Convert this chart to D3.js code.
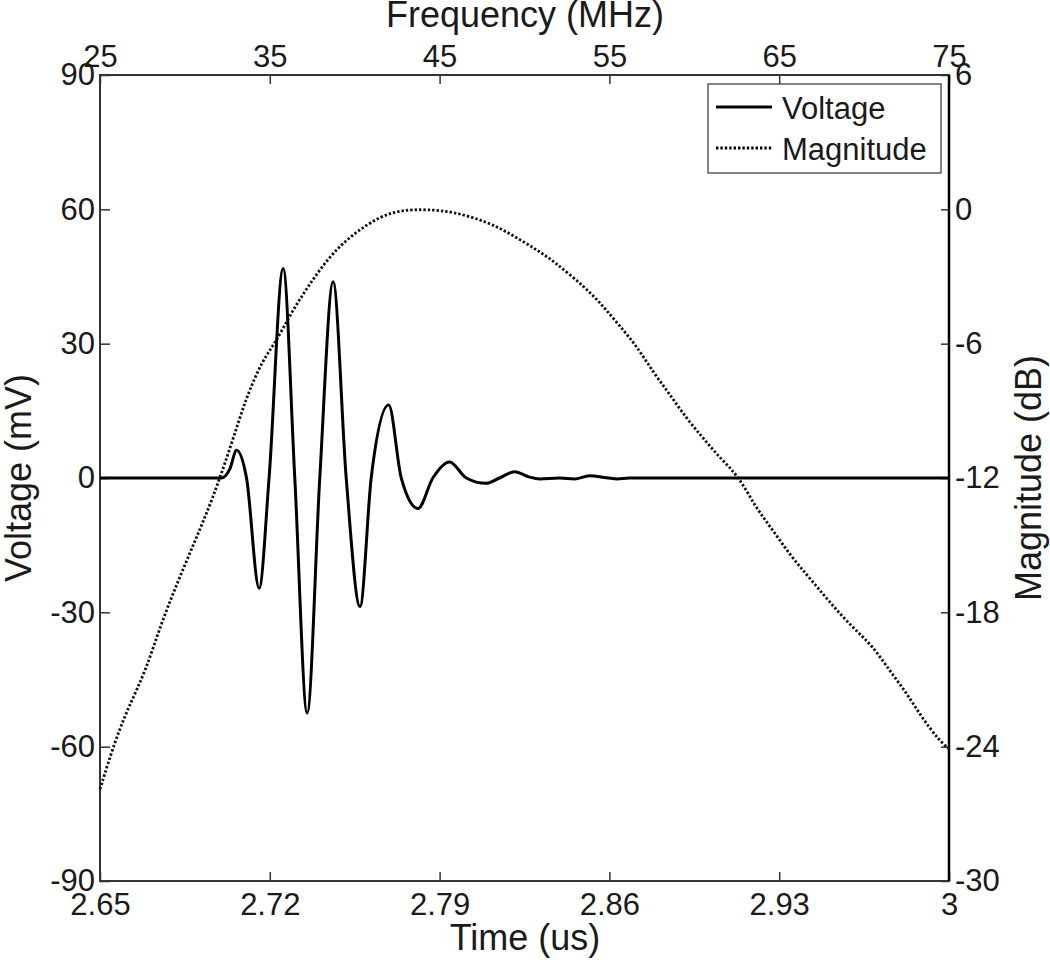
<!DOCTYPE html>
<meta charset="utf-8">
<style>
  body { margin: 0; background: #fff; }
  svg { font-family: "Liberation Sans", Arial, sans-serif; }
  .tick text { font-size: 31px; fill: #1a1a1a; }
  .tick line { stroke: #333; stroke-width: 1.5; }
  .label { font-size: 36px; fill: #1a1a1a; }
  .legend text { font-size: 31px; fill: #1a1a1a; }
</style>
<body>
<script src="https://cdnjs.cloudflare.com/ajax/libs/d3/7.8.5/d3.min.js"></script>
<script>

// time signal
var timeUs = [2.65, 2.700, 2.7035, 2.7063, 2.7104, 2.7156, 2.7197, 2.7255, 2.7303, 2.7354,
              2.7406, 2.7461, 2.7515, 2.7572, 2.7618, 2.7690, 2.7742, 2.7811, 2.7872, 2.7941,
              2.8010, 2.8092, 2.8147, 2.8209, 2.8271, 2.8312, 2.8394, 2.8456, 2.8518, 2.8580,
              2.8629, 2.8682, 3.0];
var voltageMv = [0, 0, 2.0, 6.2, 0, -24.6, 0, 46.8, 0, -52.5,
                 0, 43.8, 0, -28.7, 0, 16.3, 0, -6.8, 0, 3.6,
                 0, -1.2, 0, 1.4, 0.2, -0.2, 0, -0.2, 0.5, 0.1,
                 -0.2, 0, 0];

// spectrum
var freqMHz = [25, 25.9, 26.7, 27.7, 28.6, 29.6, 30.6, 31.6, 32.7, 33.6,
               34.6, 35.3, 36.2, 37.2, 38.5, 39.9, 41.5, 42.8, 44.2, 45.8,
               47.8, 49.3, 50.7, 51.7, 53.6, 54.6, 55.6, 56.6, 57.6, 58.5,
               59.5, 60.5, 61.5, 62.6, 63.6, 64.6, 65.6, 66.6, 67.6, 68.5,
               69.5, 70.5, 71.5, 72.5, 73.4, 74.4, 75];
var magnitudeDb = [-25.9, -23.7, -22.2, -20.6, -18.5, -16.6, -14.8, -13.0, -10.6, -8.4,
                   -6.7, -6.0, -4.7, -3.5, -2.1, -1.1, -0.3, -0.03, 0, -0.1,
                   -0.55, -1.15, -1.8, -2.3, -3.5, -4.3, -5.2, -6.1, -7.3, -8.2,
                   -9.3, -10.2, -11.1, -11.9, -13.3, -14.3, -15.4, -16.3, -17.2, -18.0,
                   -18.8, -19.5, -20.6, -21.6, -22.7, -23.7, -24.1];

// ticks
var timeTicks = [2.65, 2.72, 2.79, 2.86, 2.93, 3];
var timeTickLabels = ["2.65", "2.72", "2.79", "2.86", "2.93", "3"];
var freqTicks = [25, 35, 45, 55, 65, 75];
var voltTicks = [-90, -60, -30, 0, 30, 60, 90];
var dbTicks = [-30, -24, -18, -12, -6, 0, 6];

var legendNames = ["Voltage", "Magnitude"];

var margin = {top: 75, right: 101, bottom: 81, left: 100},
    width = 1050 - margin.left - margin.right,
    height = 962 - margin.top - margin.bottom;

// plain hyphen minus, like the original
var plain = function(d) { return String(d); };

var svg = d3.select("body").append("svg")
    .attr("width", 1050)
    .attr("height", 962);

var g = svg.append("g")
    .attr("transform", "translate(" + margin.left + "," + margin.top + ")");

var x = d3.scaleLinear().domain([2.65, 3]).range([0, width]);
var xf = d3.scaleLinear().domain([25, 75]).range([0, width]);
var y = d3.scaleLinear().domain([-90, 90]).range([height, 0]);
var yd = d3.scaleLinear().domain([-30, 6]).range([height, 0]);

/*
** axes, ticks point inward
*/
g.append("g")
    .attr("transform", "translate(0," + height + ")")
    .call(d3.axisBottom(x).tickValues(timeTicks)
      .tickFormat(function(d, i) { return timeTickLabels[i]; })
      .tickSizeInner(-9).tickSizeOuter(0).tickPadding(12))
    .call(function(a) { a.select(".domain").remove(); });

g.append("g")
    .call(d3.axisTop(xf).tickValues(freqTicks).tickFormat(plain)
      .tickSizeInner(-9).tickSizeOuter(0).tickPadding(8))
    .call(function(a) { a.select(".domain").remove(); });

g.append("g")
    .call(d3.axisLeft(y).tickValues(voltTicks).tickFormat(plain)
      .tickSizeInner(-10).tickSizeOuter(0).tickPadding(5))
    .call(function(a) { a.select(".domain").remove(); });

g.append("g")
    .attr("transform", "translate(" + width + ",0)")
    .call(d3.axisRight(yd).tickValues(dbTicks).tickFormat(plain)
      .tickSizeInner(-8).tickSizeOuter(0).tickPadding(6))
    .call(function(a) { a.select(".domain").remove(); });

svg.selectAll(".tick text").attr("font-family", null);
svg.selectAll(".tick text").attr("font-size", null);

// frame
g.append("rect")
    .attr("width", width)
    .attr("height", height)
    .attr("fill", "none")
    .attr("stroke", "#333")
    .attr("stroke-width", 2);
g.append("line")
    .attr("x1", width).attr("x2", width)
    .attr("y1", 0).attr("y2", height)
    .attr("stroke", "#000")
    .attr("stroke-width", 2.5);

/*
** the two curves
*/
var voltLine = d3.line()
    .x(function(d, i) { return x(timeUs[i]); })
    .y(function(d) { return y(d); })
    .curve(d3.curveMonotoneX);

var magLine = d3.line()
    .x(function(d, i) { return xf(freqMHz[i]); })
    .y(function(d) { return yd(d); })
    .curve(d3.curveBasis);

g.append("path")
    .datum(magnitudeDb)
    .attr("d", magLine)
    .attr("fill", "none")
    .attr("stroke", "#111")
    .attr("stroke-width", 2.8)
    .attr("stroke-dasharray", "2.4,2");

g.append("path")
    .datum(voltageMv)
    .attr("d", voltLine)
    .attr("fill", "none")
    .attr("stroke", "#000")
    .attr("stroke-width", 3)
    .attr("stroke-linejoin", "round");

/*
** axis labels
*/
svg.append("text")
    .attr("class", "label")
    .attr("x", 525).attr("y", 27)
    .attr("text-anchor", "middle")
    .text("Frequency (MHz)");

svg.append("text")
    .attr("class", "label")
    .attr("x", 525).attr("y", 950)
    .attr("text-anchor", "middle")
    .text("Time (us)");

svg.append("text")
    .attr("class", "label")
    .attr("transform", "translate(31,478) rotate(-90)")
    .attr("text-anchor", "middle")
    .text("Voltage (mV)");

svg.append("text")
    .attr("class", "label")
    .attr("transform", "translate(1041,478) rotate(-90)")
    .attr("text-anchor", "middle")
    .text("Magnitude (dB)");

/*
** legend
*/
var legend = svg.append("g").attr("class", "legend");

legend.append("rect")
    .attr("x", 708).attr("y", 84)
    .attr("width", 233).attr("height", 89)
    .attr("fill", "#fff")
    .attr("stroke", "#333")
    .attr("stroke-width", 1.2);

legendNames.forEach(function(name, i) {
  var ly = 107 + i * 41;
  legend.append("line")
      .attr("x1", 716).attr("x2", 772)
      .attr("y1", ly).attr("y2", ly)
      .attr("stroke", "#000")
      .attr("stroke-width", i === 0 ? 3 : 2.8)
      .attr("stroke-dasharray", i === 0 ? null : "2.4,2");
  legend.append("text")
      .attr("x", 782).attr("y", ly + 12)
      .text(name);
});

</script>
</body>
</html>
